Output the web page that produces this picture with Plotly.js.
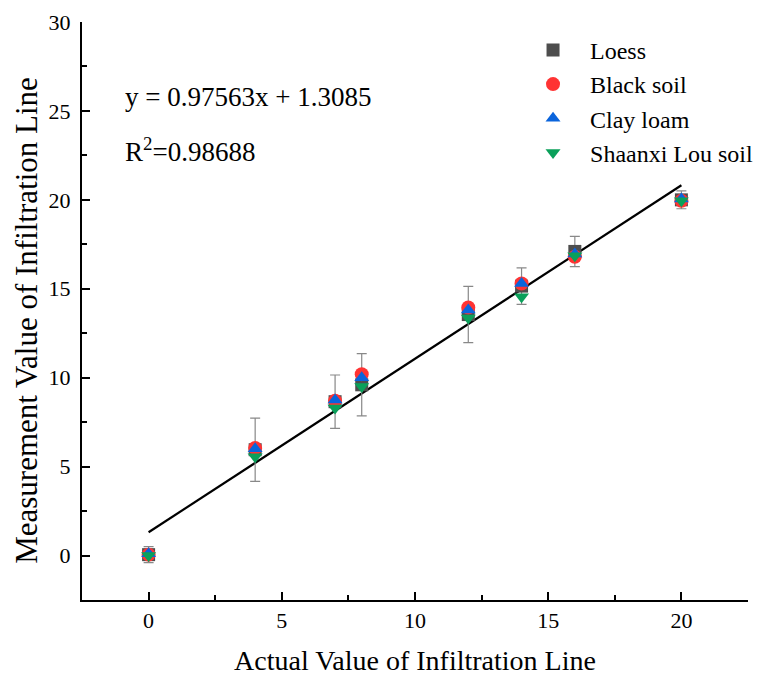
<!DOCTYPE html>
<html>
<head>
<meta charset="utf-8">
<script src="https://cdn.plot.ly/plotly-3.0.1.min.js"></script>
<style>html,body{margin:0;padding:0;background:#fff;}#chart{width:761px;height:680px;}</style>
</head>
<body>
<div id="chart"></div>
<script>
// Data
const xActual = [0, 4, 7, 8, 12, 14, 16, 20];
const loess = [0.05, 5.95, 8.65, 9.6, 13.55, 15.15, 17.1, 20.0];
const loessErr = [0.45, 1.78, 1.5, 1.75, 1.58, 1.03, 0.85, 0.5];
const blackSoil = [0.05, 6.05, 8.7, 10.2, 13.95, 15.3, 16.8, 19.95];
const clayLoam = [0.1, 6.0, 8.75, 10.0, 13.8, 15.3, 16.95, 20.05];
const shaanxiLou = [0.0, 5.55, 8.3, 9.5, 13.35, 14.55, 16.85, 19.95];
const fitSlope = 0.97563;
const fitIntercept = 1.3085;
const fitX = [0, 20];
const fitY = fitX.map(x => fitSlope * x + fitIntercept);
const eqText = 'y = 0.97563x + 1.3085';
const r2Text = 'R<sup>2</sup>=0.98688';
const xTitle = 'Actual Value of Infiltration Line';
const yTitle = 'Measurement Value of Infiltration Line';

const FONT = 'Liberation Serif, Times New Roman, serif';

const traces = [
  {x: fitX, y: fitY, mode: 'lines', line: {color: '#000', width: 2.2}, showlegend: false, hoverinfo: 'skip'},
  {x: xActual, y: loess, name: 'Loess', mode: 'markers', type: 'scatter',
   marker: {symbol: 'square', size: 13, color: '#4d4d4d'},
   error_y: {type: 'data', array: loessErr, visible: true, color: '#888', thickness: 1.2, width: 5}},
  {x: xActual, y: blackSoil, name: 'Black soil', mode: 'markers',
   marker: {symbol: 'circle', size: 14, color: '#ff3333'}},
  {x: xActual, y: clayLoam, name: 'Clay loam', mode: 'markers',
   marker: {symbol: 'triangle-up', size: 13, color: '#0a64dc'}},
  {x: xActual, y: shaanxiLou, name: 'Shaanxi Lou soil', mode: 'markers',
   marker: {symbol: 'triangle-down', size: 13, color: '#0aa05a'}}
];

const axisCommon = {
  showline: true, linecolor: '#000', linewidth: 2,
  ticks: 'inside', ticklen: 8, tickwidth: 2, tickcolor: '#000',
  showgrid: false, zeroline: false,
  tickfont: {family: FONT, size: 22, color: '#000'},
  minor: {ticks: 'inside', ticklen: 5, tickwidth: 2, tickcolor: '#000', dtick: 2.5, showgrid: false}
};

const layout = {
  width: 761, height: 680,
  margin: {l: 82, r: 13, t: 22, b: 80, autoexpand: false},
  paper_bgcolor: '#fff', plot_bgcolor: '#fff',
  font: {family: FONT, color: '#000'},
  xaxis: Object.assign({}, axisCommon, {
    range: [-2.5, 22.5], tickvals: [0, 5, 10, 15, 20],
    title: {text: xTitle, font: {family: FONT, size: 28, color: '#000'}, standoff: 18}
  }),
  yaxis: Object.assign({}, axisCommon, {
    range: [-2.5, 30], tickvals: [0, 5, 10, 15, 20, 25, 30], ticklabelstandoff: 5
  }),
  showlegend: true,
  legend: {x: 0.6517, y: 0.990, xanchor: 'left', yanchor: 'top', bgcolor: 'rgba(0,0,0,0)', itemwidth: 64,
           font: {family: FONT, size: 24, color: '#000'}, tracegroupgap: 0},
  annotations: [
    {x: -0.95, y: 25.8, xref: 'x', yref: 'y', text: eqText, showarrow: false, xanchor: 'left', yanchor: 'middle',
     font: {family: FONT, size: 27, color: '#000'}},
    {x: -0.95, y: 22.8, xref: 'x', yref: 'y', text: r2Text, showarrow: false, xanchor: 'left', yanchor: 'middle',
     font: {family: FONT, size: 27, color: '#000'}},
    {x: 0, y: 0.483, xref: 'paper', yref: 'paper', xshift: -55, text: yTitle, textangle: -90, showarrow: false,
     xanchor: 'center', yanchor: 'middle', font: {family: FONT, size: 31, color: '#000'}}
  ]
};

Plotly.newPlot('chart', traces, layout, {displayModeBar: false, staticPlot: true});
</script>
</body>
</html>
